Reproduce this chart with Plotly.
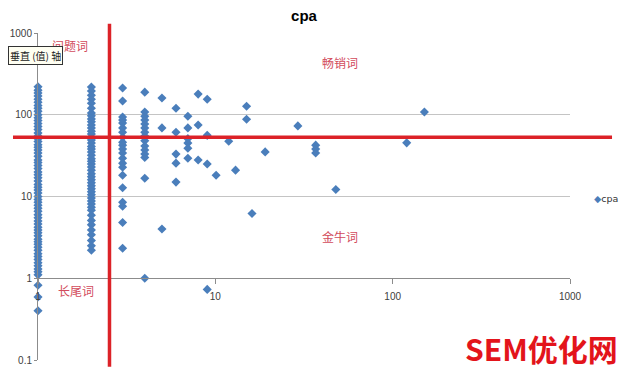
import math
import plotly.graph_objects as go

title_text = "cpa"
series_name = "cpa"

# column of points at x = 1
y_at_x1 = [220, 200, 185, 170, 155, 142, 130, 120, 110, 100, 92, 85, 78, 72, 66, 60,
           55, 51, 47, 43, 40, 37, 34, 31, 28, 26, 24, 22, 20, 18.5, 17, 15.5, 14, 13,
           12, 11, 10, 9.2, 8.5, 7.8, 7.2, 6.6, 6, 5.5, 5, 4.6, 4.2, 3.9, 3.6, 3.3, 3,
           2.8, 2.6, 2.4, 2.2, 2, 1.85, 1.7, 1.55, 1.42, 1.3, 1.2, 1.1, 0.82, 0.59, 0.40]
# column at x = 2
y_at_x2 = [218, 195, 173, 155, 138, 120, 105, 97, 89, 82, 75, 69, 63, 58, 53, 49, 45,
           41, 38, 35, 32, 29, 27, 25, 23, 21, 19, 17.5, 16, 14.7, 13.5, 12.4, 11.4,
           10.5, 9.6, 8.8, 8.1, 7.4, 6.8, 5.9, 5.1, 4.5, 3.9, 3.4, 2.9, 2.5, 2.2]
# column at x = 3
y_at_x3 = [212, 147, 94, 86, 79, 69, 61, 53, 46, 42.5, 38, 34, 29.4, 25.6, 22.8, 18.2,
           12.8, 8.5, 7.6, 4.8, 2.33]
# column at x = 4
y_at_x4 = [189, 108, 96, 86, 77, 69, 61, 55, 48, 41.5, 37, 33, 30, 16.7, 1.0]
# remaining scattered points
other_x = [5, 5, 5, 6, 6, 6, 6, 6, 7, 7, 7, 7, 7, 7, 8, 8, 8, 9, 9, 9, 9, 10.1, 11.9,
           13, 15, 15, 16.1, 19.1, 29.2, 36.8, 36.8, 36.8, 47.8, 120, 151]
other_y = [160, 69, 4.0, 120, 61, 33, 25.6, 15, 96, 69, 51, 45, 39, 29.4, 179, 75, 28,
           155, 56, 25, 0.73, 18.2, 47.5, 21, 127, 88, 6.2, 35.1, 73, 42.5, 38, 34, 12.2,
           45.3, 108]

x_tick_vals = [1, 10, 100, 1000]
x_tick_text = ["1", "10", "100", "1000"]
y_tick_vals = [0.1, 1, 10, 100, 1000]
y_tick_text = ["0.1", "1", "10", "100", "1000"]

x_range_log = [0, 3]
y_range_log = [-1, 3]

# quadrant split thresholds
x_split = 2.53
y_split = 53

quadrant_labels = ["问题词", "畅销词", "金牛词", "长尾词"]
axis_tip_text = "垂直 (值) 轴"
watermark_text = "SEM优化网"

xs = [1] * len(y_at_x1) + [2] * len(y_at_x2) + [3] * len(y_at_x3) + [4] * len(y_at_x4) + other_x
ys = y_at_x1 + y_at_x2 + y_at_x3 + y_at_x4 + other_y

blue = "#4a7ebb"
red = "#dc2228"
label_red = "#d24b5c"

# the page body has an 8px margin; figure is sized so the plot lands where the reference's does
W, H = 620, 361

fig = go.Figure()
fig.add_trace(go.Scatter(
    x=xs, y=ys, mode="markers", name=series_name,
    marker=dict(symbol="diamond", size=7, color=blue),
    cliponaxis=False, showlegend=False,
))

def xp(v):
    return (math.log10(v) - x_range_log[0]) / (x_range_log[1] - x_range_log[0])

def yp(v):
    return (math.log10(v) - y_range_log[0]) / (y_range_log[1] - y_range_log[0])

shapes = [
    dict(type="line", xref="paper", yref="paper", x0=xp(x_split), x1=xp(x_split),
         y0=-0.021, y1=1.028, line=dict(color=red, width=3.5), layer="above"),
    dict(type="line", xref="paper", yref="paper", x0=-0.047, x1=1.079,
         y0=yp(y_split), y1=yp(y_split), line=dict(color=red, width=3.5), layer="above"),
]

def label(text, x, y, **kw):
    d = dict(text=text, xref="paper", yref="paper", x=x, y=y, showarrow=False,
             xanchor="center", yanchor="middle")
    d.update(kw)
    return d

cjk = "Noto Sans CJK SC"
annotations = [
    label(quadrant_labels[0], 0.06, 0.963, font=dict(size=12, color=label_red, family=cjk)),
    label(quadrant_labels[1], 0.568, 0.911, font=dict(size=12, color=label_red, family=cjk)),
    label(quadrant_labels[2], 0.568, 0.379, font=dict(size=12, color=label_red, family=cjk)),
    label(quadrant_labels[3], 0.071, 0.214, font=dict(size=12, color=label_red, family=cjk)),
    label(axis_tip_text, -0.004, 0.93, bgcolor="#fffff2", bordercolor="#333333",
          borderwidth=1, borderpad=1, font=dict(size=10, color="#222222", family=cjk)),
    label("<b>" + watermark_text + "</b>", 0.946, 0.037,
          font=dict(size=30, color="#e3141b", family=cjk)),
    # legend
    label('<span style="color:%s">◆</span>%s' % (blue, series_name), 1.068, 0.495,
          font=dict(size=9.5, color="#333333", family="DejaVu Sans")),
]

fig.update_layout(
    width=W, height=H,
    margin=dict(l=30, r=58, t=25, b=9, autoexpand=False),
    paper_bgcolor="white", plot_bgcolor="white",
    title=dict(text="<b>" + title_text + "</b>", x=0.5, xref="paper", xanchor="center",
               y=1 - 2 / H, yref="container", yanchor="top", pad=dict(t=0, b=0),
               font=dict(size=15, color="#000000", family="Liberation Sans")),
    font=dict(family="Liberation Sans", size=10, color="#404040"),
    showlegend=False,
    shapes=shapes,
    annotations=annotations,
)

fig.update_xaxes(type="log", range=x_range_log, anchor="free", position=0.25,
                 tickvals=x_tick_vals, ticktext=x_tick_text, showgrid=False,
                 showline=True, linecolor="#8c8c8c", linewidth=1,
                 ticks="outside", ticklen=5, tickcolor="#8c8c8c",
                 ticklabelstandoff=4, zeroline=False,
                 tickfont=dict(size=10, color="#404040"))
fig.update_yaxes(type="log", range=y_range_log, tickvals=y_tick_vals, ticktext=y_tick_text,
                 showgrid=True, gridcolor="#c4c4c4", gridwidth=1,
                 showline=True, linecolor="#8c8c8c", linewidth=1,
                 ticks="outside", ticklen=3, tickcolor="#8c8c8c", zeroline=False,
                 tickfont=dict(size=10, color="#404040"))

fig.write_html("out.html")
